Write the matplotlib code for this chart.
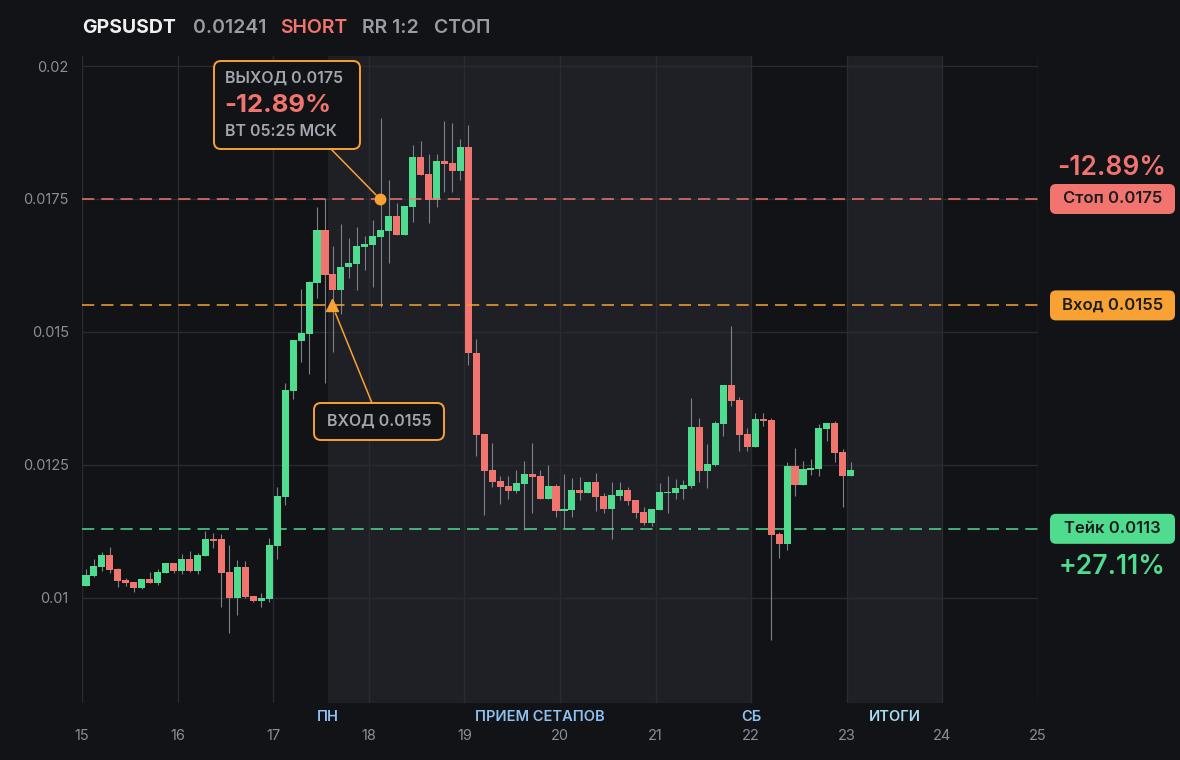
import numpy as np
import matplotlib.pyplot as plt
from matplotlib.patches import FancyBboxPatch

plt.rcParams['font.family'] = ['Inter', 'DejaVu Sans']

# ---------- цвета ----------
BG = '#121317'
SHADE = '#1f2025'
GRID = '#2a2b31'
RED = '#f2746e'
GREEN = '#50dc8e'
ORANGE = '#f7a233'
GRAY = '#8b8e97'
TXT_GRAY = '#a3a6ae'
WICK = '#7e818a'

# ---------- данные: 2-часовые свечи, старт 15-го числа ----------
opens = [0.01023, 0.01041, 0.01058, 0.01081, 0.01055, 0.01034, 0.01030, 0.01019, 0.01036, 0.01028,
         0.01047, 0.01066, 0.01051, 0.01073, 0.01051, 0.01079, 0.01111, 0.01111, 0.01049, 0.01000,
         0.01058, 0.01004, 0.00994, 0.00998, 0.01098, 0.01190, 0.01389, 0.01483, 0.01496, 0.01592,
         0.01692, 0.01609, 0.01579, 0.01622, 0.01628, 0.01660, 0.01664, 0.01679, 0.01690, 0.01718,
         0.01682, 0.01735, 0.01829, 0.01797, 0.01748, 0.01822, 0.01818, 0.01803, 0.01848, 0.01461,
         0.01308, 0.01241, 0.01220, 0.01211, 0.01201, 0.01214, 0.01233, 0.01229, 0.01186, 0.01211,
         0.01164, 0.01165, 0.01203, 0.01197, 0.01218, 0.01192, 0.01167, 0.01192, 0.01203, 0.01184,
         0.01162, 0.01141, 0.01165, 0.01197, 0.01197, 0.01205, 0.01211, 0.01321, 0.01239, 0.01250,
         0.01327, 0.01400, 0.01372, 0.01308, 0.01284, 0.01337, 0.01335, 0.01120, 0.01102, 0.01248,
         0.01212, 0.01241, 0.01243, 0.01318, 0.01329, 0.01275, 0.01229]
highs = [0.01055, 0.01073, 0.01086, 0.01096, 0.01056, 0.01038, 0.01030, 0.01036, 0.01049, 0.01055,
         0.01066, 0.01066, 0.01083, 0.01088, 0.01085, 0.01126, 0.01122, 0.01120, 0.01100, 0.01071,
         0.01070, 0.01004, 0.01009, 0.01113, 0.01209, 0.01404, 0.01485, 0.01581, 0.01596, 0.01735,
         0.01752, 0.01662, 0.01703, 0.01677, 0.01698, 0.01681, 0.01711, 0.01902, 0.01786, 0.01743,
         0.01737, 0.01852, 0.01859, 0.01835, 0.01835, 0.01897, 0.01893, 0.01863, 0.01889, 0.01487,
         0.01308, 0.01291, 0.01229, 0.01229, 0.01241, 0.01258, 0.01291, 0.01241, 0.01250, 0.01214,
         0.01233, 0.01226, 0.01227, 0.01218, 0.01235, 0.01197, 0.01218, 0.01218, 0.01209, 0.01184,
         0.01171, 0.01167, 0.01216, 0.01229, 0.01224, 0.01222, 0.01376, 0.01338, 0.01290, 0.01333,
         0.01400, 0.01511, 0.01378, 0.01320, 0.01348, 0.01348, 0.01338, 0.01124, 0.01256, 0.01282,
         0.01258, 0.01261, 0.01327, 0.01329, 0.01333, 0.01280, 0.01256]
lows = [0.01023, 0.01039, 0.01051, 0.01047, 0.01021, 0.01023, 0.01011, 0.01017, 0.01028, 0.01024,
        0.01047, 0.01047, 0.01045, 0.01049, 0.01045, 0.01079, 0.01094, 0.00983, 0.00934, 0.00968,
        0.01000, 0.00993, 0.00983, 0.00993, 0.01073, 0.01175, 0.01374, 0.01444, 0.01421, 0.01564,
        0.01404, 0.01462, 0.01534, 0.01602, 0.01579, 0.01617, 0.01585, 0.01547, 0.01630, 0.01682,
        0.01682, 0.01707, 0.01795, 0.01705, 0.01735, 0.01763, 0.01763, 0.01786, 0.01438, 0.01267,
        0.01156, 0.01209, 0.01177, 0.01186, 0.01197, 0.01128, 0.01160, 0.01186, 0.01186, 0.01152,
        0.01132, 0.01152, 0.01184, 0.01197, 0.01164, 0.01160, 0.01111, 0.01184, 0.01175, 0.01150,
        0.01137, 0.01135, 0.01165, 0.01160, 0.01186, 0.01186, 0.01207, 0.01218, 0.01207, 0.01248,
        0.01305, 0.01361, 0.01276, 0.01276, 0.01284, 0.01323, 0.00921, 0.01075, 0.01090, 0.01192,
        0.01212, 0.01231, 0.01229, 0.01295, 0.01256, 0.01171, 0.01229]
closes = [0.01043, 0.01060, 0.01081, 0.01053, 0.01032, 0.01028, 0.01019, 0.01036, 0.01028, 0.01049,
          0.01066, 0.01051, 0.01073, 0.01051, 0.01081, 0.01111, 0.01107, 0.01047, 0.01000, 0.01058,
          0.01002, 0.00994, 0.01000, 0.01100, 0.01192, 0.01391, 0.01485, 0.01498, 0.01594, 0.01692,
          0.01607, 0.01579, 0.01622, 0.01630, 0.01662, 0.01666, 0.01681, 0.01692, 0.01718, 0.01682,
          0.01737, 0.01829, 0.01795, 0.01748, 0.01822, 0.01816, 0.01803, 0.01848, 0.01461, 0.01306,
          0.01239, 0.01218, 0.01209, 0.01201, 0.01216, 0.01233, 0.01227, 0.01186, 0.01211, 0.01164,
          0.01167, 0.01203, 0.01197, 0.01218, 0.01190, 0.01167, 0.01194, 0.01203, 0.01182, 0.01160,
          0.01141, 0.01167, 0.01199, 0.01199, 0.01207, 0.01212, 0.01321, 0.01239, 0.01252, 0.01329,
          0.01400, 0.01370, 0.01306, 0.01284, 0.01337, 0.01333, 0.01118, 0.01102, 0.01248, 0.01212,
          0.01243, 0.01244, 0.01320, 0.01329, 0.01273, 0.01229, 0.01241]

stop_price = 0.0175
entry_price = 0.0155
take_price = 0.0113
entry_time = 17.618
exit_time = 18.117

spans = [(17.575, 22.0), (23.0, 24.0)]
period_labels = ['ПН', 'ПРИЕМ СЕТАПОВ', 'СБ', 'ИТОГИ']
period_x = [17.575, 19.79, 22.0, 23.5]
period_colors = ['#8ec1f2', '#8ec1f2', '#8ec1f2', '#a8dcf6']

y_ticks = [0.01, 0.0125, 0.015, 0.0175, 0.02]
y_tick_labels = ['0.01', '0.0125', '0.015', '0.0175', '0.02']
x_ticks = list(range(15, 26))

# ---------- фигура ----------
fig = plt.figure(figsize=(11.8, 7.6), dpi=100, facecolor=BG)
ax = fig.add_axes([82 / 1180, 57 / 760, 956 / 1180, 647 / 760])
ax.set_facecolor(BG)
ax.set_xlim(15, 25)
ax.set_ylim(0.008026, 0.020188)

for a, b in spans:
    ax.axvspan(a, b, color=SHADE, lw=0, zorder=0.1)

ax.set_axisbelow(True)
ax.grid(True, color=GRID, lw=1.0)
for s in ax.spines.values():
    s.set_visible(False)
ax.set_yticks(y_ticks)
ax.set_yticklabels(y_tick_labels)
ax.set_xticks(x_ticks)
ax.set_xticklabels([str(x) for x in x_ticks])
ax.tick_params(axis='y', length=0, pad=9.5, labelsize=10.5, labelcolor=GRAY)
ax.tick_params(axis='x', length=0, pad=19, labelsize=10.5, labelcolor=GRAY)

# свечи
o = np.array(opens)
h = np.array(highs)
l = np.array(lows)
c = np.array(closes)
t = 15 + (2 * np.arange(len(o)) + 1) / 24
up = c >= o
cols = np.where(up, GREEN, RED)
ax.vlines(t, l, h, color=WICK, lw=0.8, zorder=2)
body_low = np.minimum(o, c)
body_h = np.maximum(np.abs(c - o), 0.00003)
ax.bar(t, body_h, bottom=body_low, width=0.074, color=cols, lw=0, zorder=3)

# уровни
dash = (0, (8, 4.6))
ax.axhline(stop_price, color=RED, lw=1.1, ls=dash, zorder=4)
ax.axhline(entry_price, color=ORANGE, lw=1.1, ls=dash, zorder=4)
ax.axhline(take_price, color=GREEN, lw=1.1, ls=dash, zorder=4)

ax.plot(exit_time, stop_price, 'o', color=ORANGE, ms=7.5, zorder=6)
ax.plot(entry_time, entry_price, '^', color=ORANGE, ms=9, zorder=6)

# подписи периодов
for lab, x, col in zip(period_labels, period_x, period_colors):
    ax.annotate(lab, xy=(x, 0), xycoords=('data', 'axes fraction'),
                xytext=(0, -14), textcoords='offset pixels',
                ha='center', va='center', fontsize=10.5, color=col, fontweight='semibold')

# ---------- оверлей в пикселях ----------
ov = fig.add_axes([0, 0, 1, 1], zorder=10)
ov.set_xlim(0, 1180)
ov.set_ylim(760, 0)
ov.axis('off')
ov.patch.set_alpha(0)


def py(v):
    return 760 - ax.transData.transform((20, v))[1]


# заголовок
ov.text(82, 28, 'GPSUSDT', color='#f0f0f2', fontsize=14, fontweight='bold', va='center')
ov.text(193, 28, '0.01241', color='#9a9ca4', fontsize=14, fontweight='semibold', va='center')
ov.text(280, 28, 'SHORT', color=RED, fontsize=14, fontweight='semibold', va='center')
ov.text(362, 28, 'RR 1:2', color='#9a9ca4', fontsize=14, fontweight='semibold', va='center')
ov.text(434, 28, 'СТОП', color='#9a9ca4', fontsize=14, fontweight='semibold', va='center')

# правые плашки
def tag(v, text, fc):
    yc = py(v)
    ov.add_patch(FancyBboxPatch((1050, yc - 15), 125, 30,
                                boxstyle='round,pad=0,rounding_size=6',
                                fc=fc, ec='none'))
    ov.text(1112.5, yc, text, ha='center', va='center', fontsize=12,
            color='#1b1c20', fontweight='semibold')
    return yc


ys = tag(stop_price, 'Стоп 0.0175', RED)
tag(entry_price, 'Вход 0.0155', ORANGE)
yt = tag(take_price, 'Тейк 0.0113', GREEN)
ov.text(1112, ys - 31, '-12.89%', ha='center', va='center', fontsize=19, color=RED,
        fontweight='semibold')
ov.text(1112, yt + 38, '+27.11%', ha='center', va='center', fontsize=19, color=GREEN,
        fontweight='semibold')

# выноска ВЫХОД
ov.add_patch(FancyBboxPatch((214, 61), 146, 88, boxstyle='round,pad=0,rounding_size=7',
                            fc=BG, ec=ORANGE, lw=1.4))
ov.text(225, 78, 'ВЫХОД 0.0175', color=TXT_GRAY, fontsize=11.5, fontweight='semibold', va='center')
ov.text(224, 106, '-12.89%', color=RED, fontsize=18.5, fontweight='bold', va='center')
ov.text(225, 132, 'ВТ 05:25 МСК', color=TXT_GRAY, fontsize=11.5, fontweight='semibold', va='center')
ov.annotate('', xy=(exit_time, stop_price), xycoords=ax.transData,
            xytext=(331, 149), textcoords='data',
            arrowprops=dict(arrowstyle='-', color=ORANGE, lw=1.1, shrinkA=0, shrinkB=4))

# выноска ВХОД
ov.add_patch(FancyBboxPatch((314, 403), 130, 37, boxstyle='round,pad=0,rounding_size=7',
                            fc=BG, ec=ORANGE, lw=1.4))
ov.text(379, 421.5, 'ВХОД 0.0155', color=TXT_GRAY, fontsize=11.5, fontweight='semibold',
        ha='center', va='center')
ov.annotate('', xy=(entry_time, entry_price), xycoords=ax.transData,
            xytext=(372, 403), textcoords='data',
            arrowprops=dict(arrowstyle='-', color=ORANGE, lw=1.1, shrinkA=0, shrinkB=6))

fig.savefig('out.png', dpi=100, facecolor=BG)
